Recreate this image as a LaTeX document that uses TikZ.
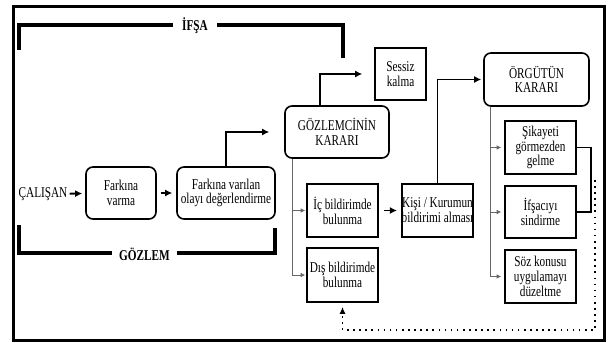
\documentclass[tikz,border=0pt]{standalone}
\usepackage{fontspec}
\setmainfont{Liberation Serif}[FakeStretch=0.75]
\usetikzlibrary{arrows.meta}

\begin{document}
\begin{tikzpicture}[x=1pt,y=-1pt,
    font=\fontsize{15}{14.8}\selectfont,
    kutu/.style={draw,line width=1.6pt,inner sep=0pt,align=center},
    yuvarlak/.style={kutu,rounded corners=7pt},
    ok/.style={line width=1.8pt,-{Latex[length=7pt,width=7pt]}},
    ince/.style={line width=0.7pt,black!60,-{Latex[length=4.5pt,width=4.5pt]}},
    parantez/.style={line width=4.5pt,line join=miter},
    etiket/.style={font=\fontsize{15}{15}\selectfont\bfseries,inner sep=0pt}]
					\useasboundingbox (0,0) rectangle (609,342);
					\draw[line width=2.5pt] (13.5,6.5) rectangle (604.5,340.5);

					\node[etiket,minimum width=44] (ifsa) at (195,26) {İFŞA};
					\draw[parantez] (19,50) -- (19,25) -- (ifsa.west |- 0,25);
					\draw[parantez] (ifsa.east |- 0,25) -- (343,25) -- (343,58);

					\node[etiket,minimum width=65] (gozlem) at (144.5,254) {GÖZLEM};
					\draw[parantez] (19,225) -- (19,253) -- (gozlem.west |- 0,253);
					\draw[parantez] (gozlem.east |- 0,253) -- (275,253) -- (275,228);

					\node[inner sep=0pt] (calisan) at (43,194) {ÇALIŞAN};
					\node[yuvarlak,minimum width=70,minimum height=52] (farkina) at (121,193) {Farkına\\varma};
					\node[yuvarlak,minimum width=98,minimum height=52] (degerlendirme) at (226,193) {Farkına varılan\\olayı değerlendirme};
					\node[yuvarlak,minimum width=104,minimum height=52] (gozlemci) at (337,132) {GÖZLEMCİNİN\\KARARI};
					\node[kutu,minimum width=51,minimum height=52] (sessiz) at (400.5,74) {Sessiz\\kalma};
					\node[kutu,minimum width=71,minimum height=53] (ic) at (342.5,210.5) {İç bildirimde\\bulunma};
					\node[kutu,minimum width=71,minimum height=54] (dis) at (342.5,275) {Dış bildirimde\\bulunma};
					\node[kutu,minimum width=71,minimum height=53] (kisi) at (437.5,210.5) {Kişi / Kurumun\\bildirimi alması};
					\node[yuvarlak,minimum width=105,minimum height=53] (orgut) at (536.5,79.5) {ÖRGÜTÜN\\KARARI};
					\node[kutu,minimum width=71,minimum height=53] (sikayet) at (540.5,147.5) {Şikayeti\\görmezden\\gelme};
					\node[kutu,minimum width=71,minimum height=52] (sindir) at (540.5,212) {İfşacıyı\\sindirme};
					\node[kutu,minimum width=71,minimum height=53] (duzelt) at (540.5,276.5) {Söz konusu\\uygulamayı\\düzeltme};

					\draw[ok,shorten <=2pt,shorten >=3pt] (calisan) -- (farkina);
					\draw[ok,shorten <=4pt,shorten >=4pt] (farkina) -- (degerlendirme);
					\draw[ok,shorten >=15pt] (degerlendirme.north) |- (gozlemci.west);
					\draw[ok,shorten >=12pt] ([xshift=-17pt]gozlemci.north) |- (sessiz.west);
					\draw[ok,shorten <=5pt,shorten >=4pt] (ic) -- (kisi);
					\draw[ok,shorten >=2pt] (kisi.north) |- (orgut.west);

					\draw[ince,shorten >=1pt] ([xshift=8pt]gozlemci.south west) |- (ic.west);
					\draw[ince,shorten >=1pt] ([xshift=8pt]gozlemci.south west) |- (dis.west);
					\draw[ince,shorten >=3pt] ([xshift=7pt]orgut.south west) |- (sikayet.west);
					\draw[ince,shorten >=3pt] ([xshift=7pt]orgut.south west) |- (sindir.west);
					\draw[ince,shorten >=3pt] ([xshift=7pt]orgut.south west) |- (duzelt.west);

					\draw[line width=1.4pt] (sikayet.east) -- ++(14,0) coordinate (bag) |- (sindir.east);
					\coordinate (donus) at (595,330);
					\draw[line width=1.6pt,dash pattern=on 1.6pt off 4.5pt,-{Latex[length=7pt,width=6pt]},shorten >=4pt]
						(bag |- 0,178) -| (donus) -| (dis.south);
\end{tikzpicture}
\end{document}
